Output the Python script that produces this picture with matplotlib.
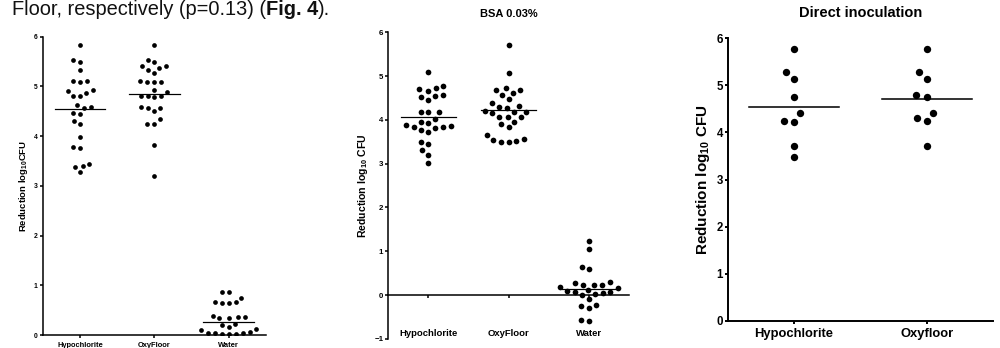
import numpy as np
import matplotlib.pyplot as plt

plt.rcParams['font.family'] = ['Liberation Sans', 'DejaVu Sans']
plt.rcParams['mathtext.fontset'] = 'custom'
plt.rcParams['mathtext.rm'] = 'Liberation Sans'
plt.rcParams['mathtext.bf'] = 'Liberation Sans:bold'

# panel 1 (no title)
groups_1 = ['Hypochlorite', 'OxyFloor', 'Water']
hypo_1 = [5.83, 5.49, 5.53, 5.33, 5.10, 5.08, 5.10, 4.86, 4.93, 4.81, 4.81, 4.91,
          4.58, 4.62, 4.57, 4.47, 4.45, 4.24, 4.30, 3.99, 3.76, 3.78, 3.40, 3.43,
          3.37, 3.27]
oxy_1 = [5.83, 5.53, 5.49, 5.41, 5.37, 5.27, 5.33, 5.41, 5.10, 5.08, 5.08, 5.08,
         4.89, 4.93, 4.81, 4.78, 4.81, 4.81, 4.58, 4.57, 4.57, 4.50, 4.34, 4.25,
         4.25, 3.82, 3.19]
water_1 = [0.86, 0.86, 0.75, 0.66, 0.65, 0.65, 0.66, 0.34, 0.37, 0.38, 0.36, 0.34,
           0.21, 0.23, 0.13, 0.17, 0.07, 0.04, 0.03, 0.04, 0.05, 0.03, 0.02, 0.10]
medians_1 = [4.54, 4.85, 0.26]

# panel 2: BSA 0.03%
groups_2 = ['Hypochlorite', 'OxyFloor', 'Water']
hypo_2 = [5.10, 4.78, 4.70, 4.66, 4.72, 4.54, 4.45, 4.53, 4.57, 4.17, 4.17, 4.17,
          3.88, 3.84, 3.96, 3.92, 3.82, 3.84, 3.86, 3.77, 3.73, 3.44, 3.50, 3.31,
          3.20, 3.01, 4.02]
oxy_2 = [5.72, 5.08, 4.69, 4.62, 4.72, 4.68, 4.57, 4.47, 4.38, 4.32, 4.30, 4.20,
         4.19, 4.26, 4.15, 4.19, 4.07, 4.07, 4.07, 3.90, 3.96, 3.84, 3.65, 3.56,
         3.52, 3.50, 3.50, 3.54]
water_2 = [1.24, 1.04, 0.59, 0.65, 0.27, 0.24, 0.24, 0.30, 0.23, 0.12, 0.08, 0.05,
           0.15, 0.03, 0.10, 0.06, 0.01, 0.18, -0.08, -0.25, -0.30, -0.23, -0.59,
           -0.57]
medians_2 = [4.06, 4.22, 0.14]

# panel 3: Direct inoculation
groups_3 = ['Hypochlorite', 'Oxyfloor']
hypo_3 = [5.77, 5.28, 5.13, 4.76, 4.41, 4.23, 4.24, 3.72, 3.48]
oxy_3 = [5.77, 5.28, 5.13, 4.76, 4.80, 4.41, 4.31, 4.24, 3.72]
medians_3 = [4.55, 4.71]

W, H = 1000, 348
fig = plt.figure(figsize=(W / 100, H / 100), dpi=100)


def swarm(vals, d, sx, sy):
    # simple beeswarm: offsets (in data units) so that dots are >= d px apart
    ys = np.asarray(vals, dtype=float) * sy
    xs = np.zeros(len(ys))
    placed = []
    for i in np.argsort(ys):
        y = ys[i]
        cands = [0.0]
        for xj, yj in placed:
            dy = abs(y - yj)
            if dy < d:
                dx = np.sqrt(d * d - dy * dy)
                cands += [xj - dx, xj + dx]
        cands.sort(key=abs)
        for c in cands:
            if all((c - xj) ** 2 + (y - yj) ** 2 >= d * d - 1e-6 for xj, yj in placed):
                xs[i] = c
                break
        placed.append((xs[i], y))
    return xs / sx


def panel(rect_px, groups, data, medians, ylim, ms, gap, lw, tick_fs, lab_fs,
          ylab_fs, lab_pad, ylabel, title=None, title_fs=8, title_pad=10,
          zero_axis=False):
    left, top, right, bottom = rect_px
    ax = fig.add_axes([left / W, 1 - bottom / H, (right - left) / W, (bottom - top) / H])
    xlim = (-0.5, len(groups) - 0.5)
    sx = (right - left) / (xlim[1] - xlim[0])
    sy = (bottom - top) / (ylim[1] - ylim[0])
    for i, vals in enumerate(data):
        off = swarm(vals, gap, sx, sy)
        ax.scatter(i + off, vals, s=ms ** 2, color='black', lw=0, zorder=3)
        ax.plot([i - 0.34, i + 0.34], [medians[i], medians[i]], color='black',
                lw=lw * 0.8, zorder=2)
    ax.set_xlim(*xlim)
    ax.set_ylim(*ylim)
    ax.spines['top'].set_visible(False)
    ax.spines['right'].set_visible(False)
    for s in ('left', 'bottom'):
        ax.spines[s].set_linewidth(lw)
    if zero_axis:
        ax.spines['bottom'].set_position(('data', 0))
    ax.set_xticks(range(len(groups)))
    ax.set_xticklabels(groups, fontsize=lab_fs, fontweight='bold')
    ax.set_yticks(range(int(ylim[0]), int(ylim[1]) + 1))
    ax.tick_params(axis='y', labelsize=tick_fs, width=lw, length=2.5, pad=1)
    for t in ax.get_yticklabels():
        t.set_fontweight('bold')
    ax.tick_params(axis='x', width=lw, length=2.5, pad=lab_pad)
    ax.set_ylabel(ylabel, fontsize=ylab_fs, fontweight='bold', labelpad=3)
    if title:
        ax.set_title(title, fontsize=title_fs, fontweight='bold', pad=title_pad)
    return ax


panel((42.7, 36.7, 266, 335), groups_1, [hypo_1, oxy_1, water_1], medians_1,
      (0, 6), ms=3.4, gap=7.0, lw=1.1, tick_fs=4.9, lab_fs=5.4, ylab_fs=6.8,
      lab_pad=2.2, ylabel=r'Reduction log$_{\mathbf{10}}$CFU')

panel((388.3, 32.3, 629, 338.8), groups_2, [hypo_2, oxy_2, water_2], medians_2,
      (-1, 6), ms=4.1, gap=7.8, lw=1.1, tick_fs=5.7, lab_fs=6.8, ylab_fs=7.6,
      lab_pad=22, ylabel=r'Reduction log$_{\mathbf{10}}$ CFU',
      title='BSA 0.03%', title_fs=8, title_pad=11, zero_axis=True)

panel((727.7, 38.3, 993, 320.7), groups_3, [hypo_3, oxy_3], medians_3,
      (0, 6), ms=5.3, gap=10.5, lw=1.4, tick_fs=8.3, lab_fs=9.4, ylab_fs=11,
      lab_pad=2.5, ylabel=r'Reduction log$_{\mathbf{10}}$ CFU',
      title='Direct inoculation', title_fs=10.5, title_pad=15)

# clipped sentence from the paper above the figure, drawn in pieces
renderer = fig.canvas.get_renderer()
x = 12 / W
for piece, weight in [('Floor, respectively (p=0.13) (', 'normal'),
                      ('Fig. 4', 'bold'), (').', 'normal')]:
    t = fig.text(x, 1 - 15 / H, piece, fontsize=14.4, fontweight=weight,
                 va='baseline', ha='left', color='#111111')
    x = t.get_window_extent(renderer).x1 / W

fig.savefig('out.png', dpi=100)
